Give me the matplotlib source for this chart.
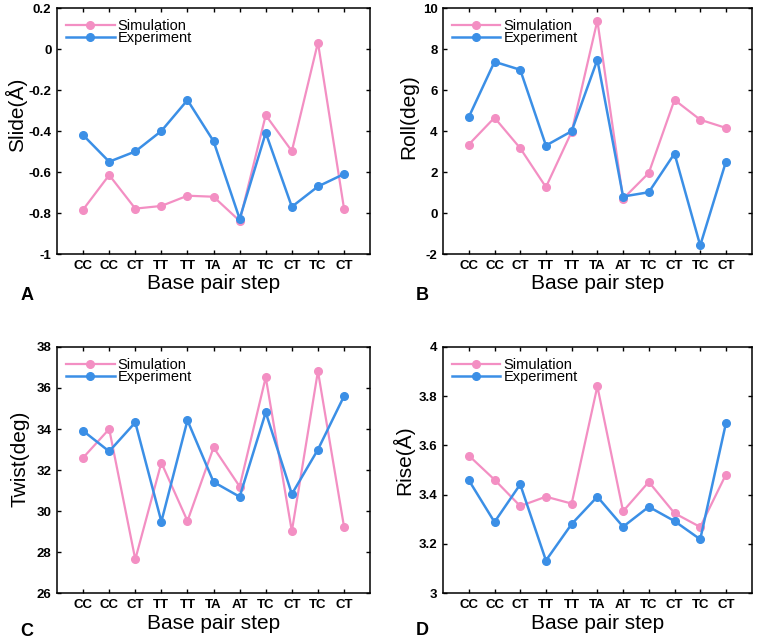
import numpy as np
import matplotlib.pyplot as plt

plt.rcParams['font.family'] = ['Liberation Sans', 'DejaVu Sans']

steps = ['CC', 'CC', 'CT', 'TT', 'TT', 'TA', 'AT', 'TC', 'CT', 'TC', 'CT']

slide_sim = [-0.783, -0.614, -0.778, -0.765, -0.715, -0.720, -0.838, -0.322, -0.497, 0.033, -0.778]
slide_exp = [-0.419, -0.549, -0.499, -0.399, -0.248, -0.449, -0.828, -0.408, -0.769, -0.670, -0.609]

roll_sim = [3.35, 4.66, 3.17, 1.27, 3.97, 9.40, 0.70, 1.96, 5.53, 4.56, 4.16]
roll_exp = [4.69, 7.39, 7.00, 3.30, 4.00, 7.49, 0.81, 1.02, 2.91, -1.58, 2.51]

twist_sim = [32.6, 34.0, 27.65, 32.36, 29.52, 33.1, 31.2, 36.52, 29.02, 36.82, 29.24]
twist_exp = [33.91, 32.91, 34.32, 29.49, 34.42, 31.42, 30.70, 34.81, 30.83, 33.0, 35.6]

rise_sim = [3.559, 3.461, 3.354, 3.392, 3.364, 3.84, 3.333, 3.452, 3.325, 3.269, 3.482]
rise_exp = [3.459, 3.289, 3.442, 3.133, 3.281, 3.392, 3.270, 3.351, 3.293, 3.219, 3.69]

panels = [
    ('A', 'Slide(\u00c5)', slide_sim, slide_exp, (-1, 0.2), np.arange(-1, 0.21, 0.2), ['-1', '-0.8', '-0.6', '-0.4', '-0.2', '0', '0.2']),
    ('B', 'Roll(deg)', roll_sim, roll_exp, (-2, 10), np.arange(-2, 10.1, 2), None),
    ('C', 'Twist(deg)', twist_sim, twist_exp, (26, 38), np.arange(26, 38.1, 2), None),
    ('D', 'Rise(\u00c5)', rise_sim, rise_exp, (3, 4), np.arange(3, 4.01, 0.2), ['3', '3.2', '3.4', '3.6', '3.8', '4']),
]

pink = '#f38fc3'
blue = '#3b8fe6'

fig = plt.figure(figsize=(7.6, 6.4), dpi=100)
boxes = [
    [0.075, 0.603, 0.412, 0.384],
    [0.583, 0.603, 0.406, 0.384],
    [0.075, 0.073, 0.412, 0.385],
    [0.583, 0.073, 0.406, 0.385],
]
# y-label position and panel letter position (axes fractions)
ylab_pos = [(-0.095, 0.565), (-0.081, 0.56), (-0.089, 0.545), (-0.094, 0.54)]
tag_pos = [(-0.118, -0.185), (-0.087, -0.185), (-0.118, -0.175), (-0.087, -0.17)]

x = np.arange(1, len(steps) + 1)
for i, ((tag, ylab, sim, exp, ylim, yt, ytl), box) in enumerate(zip(panels, boxes)):
    ax = fig.add_axes(box)
    ax.plot(x, sim, '-o', color=pink, lw=1.6, ms=5.5, label='Simulation')
    ax.plot(x, exp, '-o', color=blue, lw=1.8, ms=5.5, label='Experiment')
    ax.set_xlim(0, 12)
    ax.set_ylim(*ylim)
    ax.set_xticks(x)
    ax.set_xticklabels(steps, fontsize=9.5, fontweight='bold')
    ax.set_yticks(yt)
    if ytl is None:
        ax.set_yticklabels(['%d' % v for v in yt])
    else:
        ax.set_yticklabels(ytl)
    for lb in ax.get_yticklabels():
        lb.set_fontsize(9.5)
        lb.set_fontweight('bold')
    ax.tick_params(direction='in', top=True, right=True, length=3, width=1, pad=4)
    for s in ax.spines.values():
        s.set_linewidth(1.1)
    ax.set_xlabel('Base pair step', fontsize=15, labelpad=2)
    ax.set_ylabel(ylab, fontsize=15)
    ax.yaxis.set_label_coords(*ylab_pos[i])
    ax.legend(loc='upper left', bbox_to_anchor=(0.03, 0.955), frameon=False,
              fontsize=10.5, handlelength=3.3, handletextpad=0.2,
              labelspacing=-0.15, borderaxespad=0, borderpad=0)
    ax.text(tag_pos[i][0], tag_pos[i][1], tag, transform=ax.transAxes,
            fontsize=13, fontweight='bold', ha='left', va='baseline')

fig.savefig('out.png', dpi=100)
